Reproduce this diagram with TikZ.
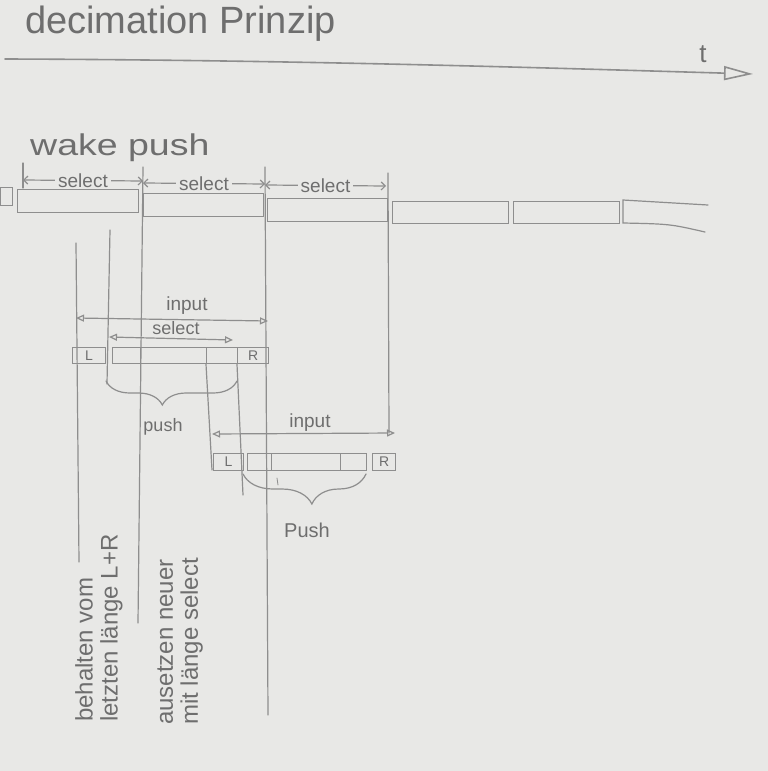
\documentclass[tikz,border=0pt]{standalone}
\usepackage{fontspec}
\setmainfont{Liberation Sans}
\usetikzlibrary{arrows.meta,decorations.pathreplacing}
\definecolor{paper}{HTML}{E8E8E6}
\definecolor{pencil}{HTML}{8E8E8E}
\definecolor{graphite}{HTML}{6E6E6E}

\begin{document}
\begin{tikzpicture}[x=1pt,y=-1pt,
  line/.style={draw=pencil, line width=1.2pt, line cap=round},
  cell/.style={draw=pencil, line width=1.2pt, rectangle, inner sep=0pt,
    anchor=north west, text=graphite, font=\fontsize{14}{15}\selectfont},
  hand/.style={text=graphite, inner sep=0pt},
  lbl/.style={hand, fill=paper, inner xsep=3pt, inner ysep=1pt},
  dim/.style={line, {Triangle[open,length=8pt,width=7pt]}-{Triangle[open,length=8pt,width=7pt]}},
  span/.style={line, {Straight Barb[length=4pt,width=8pt]}-{Straight Barb[length=4pt,width=8pt]}},
  small/.style={font=\fontsize{19}{20}\selectfont},
  vert/.style={hand, rotate=90, anchor=west, align=left, font=\fontsize{24}{25}\selectfont},
]
% paper
\fill[paper] (0,0) rectangle (768,771);
\useasboundingbox (0,0) rectangle (768,771);

% heading and time axis
\node[hand, anchor=base west, font=\fontsize{38}{40}\selectfont] (title) at (25,33) {decimation Prinzip};
\coordinate (axL) at (5,59);
\coordinate (axR) at (753,74);
\draw[line, line width=1.6pt, -{Triangle[open,length=29pt,width=14pt]}]
  (axL) .. controls (300,60) and (550,68) .. (axR);
\node[hand, anchor=base, font=\fontsize{26}{28}\selectfont] (tlabel) at (703,62) {t};

% stream of blocks
\node[hand, anchor=base west, font=\fontsize{30}{32}\selectfont] (wake) at (30,155) {\scalebox{1.25}[1]{wake push}};
\node[cell, minimum width=12pt, minimum height=18pt] (b0) at (0,187) {};
\node[cell, minimum width=121pt, minimum height=23pt] (b1) at (17,189) {};
\node[cell, minimum width=120pt, minimum height=23pt] (b2) at (143,193) {};
\node[cell, minimum width=120pt, minimum height=23pt] (b3) at (267,198) {};
\node[cell, minimum width=116pt, minimum height=22pt] (b4) at (392,201) {};
\node[cell, minimum width=106pt, minimum height=22pt] (b5) at (513,201) {};
\coordinate (b6tl) at (623,200);
\coordinate (b6tr) at (708,205);
\coordinate (b6bl) at (623,223);
\coordinate (b6br) at (705,232);
\draw[line] (b6tr) -- (b6tl) -- (b6bl) .. controls (670,224) .. (b6br);

% block boundaries carried down
\coordinate (k0top) at (23,163);
\coordinate (k0bot) at (23,188);
\coordinate (cTop) at (143,167);
\coordinate (cBot) at (138,623);
\coordinate (dTop) at (265,167);
\coordinate (dBot) at (268,715);
\coordinate (eTop) at (388,173);
\coordinate (eBot) at (389,433);
\draw[line] (k0top) -- (k0bot);
\draw[line] (cTop) -- (cBot);
\draw[line] (dTop) -- (dBot);
\draw[line] (eTop) -- (eBot);

% select spans over the blocks
\coordinate (s0a) at (23,180);
\coordinate (s0b) at (143,181);
\coordinate (s1a) at (143,183);
\coordinate (s1b) at (265,184);
\coordinate (s2a) at (265,185);
\coordinate (s2b) at (386,186);
\draw[span] (s0a) -- (s0b) node[midway, lbl, small] (sel0) {select};
\draw[span] (s1a) -- (s1b) node[midway, lbl, small] (sel1) {select};
\draw[span] (s2a) -- (s2b) node[midway, lbl, small] (sel2) {select};

% left guide lines
\coordinate (aTop) at (76,243);
\coordinate (aBot) at (79,562);
\coordinate (bTop) at (110,230);
\coordinate (bBot) at (107,384);
\draw[line] (aTop) -- (aBot);
\draw[line] (bTop) -- (bBot);

% first window
\coordinate (in1a) at (76,318);
\coordinate (in1b) at (268,321);
\draw[dim] (in1a) -- (in1b);
\node[hand, small] (in1) at (187,306) {input};
\coordinate (sela) at (109,337);
\coordinate (selb) at (233,340);
\draw[dim] (sela) -- (selb);
\node[hand, font=\fontsize{18}{19}\selectfont] (sel) at (176,328) {select};

\node[cell, minimum width=33pt, minimum height=16pt] (L1) at (72,347) {L};
\node[cell, minimum width=28pt, minimum height=16pt] (s1) at (112,347) {};
\node[cell, minimum width=66pt, minimum height=16pt] (m1) at (140,347) {};
\node[cell, minimum width=31pt, minimum height=16pt] (n1) at (206,347) {};
\node[cell, minimum width=31pt, minimum height=16pt] (R1) at (237,347) {R};

\coordinate (fBot) at (212,470);
\coordinate (gBot) at (243,495);
\draw[line] (n1.south west) -- (fBot);
\draw[line] (R1.south west) -- (gBot);

\coordinate (br1R) at (237,381);
\coordinate (br1L) at (106,381);
\draw[line, decorate, decoration={brace, amplitude=24pt, aspect=0.57}] (br1R) -- (br1L);
\node[hand, font=\fontsize{18}{19}\selectfont] (push1) at (163,427) {push};

% second window
\coordinate (in2a) at (212,434);
\coordinate (in2b) at (395,433);
\draw[dim] (in2a) -- (in2b);
\node[hand, small] (in2) at (310,423) {input};

\node[cell, minimum width=30pt, minimum height=17pt] (L2) at (213,453) {L};
\node[cell, minimum width=24pt, minimum height=17pt] (s2) at (247,453) {};
\node[cell, minimum width=69pt, minimum height=17pt] (m2) at (271,453) {};
\node[cell, minimum width=26pt, minimum height=17pt] (n2) at (340,453) {};
\node[cell, minimum width=23pt, minimum height=17pt] (R2) at (372,453) {R};

\coordinate (tickA) at (277,478);
\coordinate (tickB) at (278,485);
\draw[line, line width=0.8pt] (tickA) -- (tickB);

\coordinate (br2R) at (366,474);
\coordinate (br2L) at (243,474);
\draw[line, decorate, decoration={brace, amplitude=30pt, aspect=0.44}] (br2R) -- (br2L);
\node[hand, font=\fontsize{20}{21}\selectfont] (push2) at (307,530) {Push};

% notes
\node[vert] (keep) at (99,722) {behalten vom\\letzten länge L+R};
\node[vert] (fresh) at (180,725) {ausetzen neuer\\mit länge select};
\end{tikzpicture}
\end{document}
